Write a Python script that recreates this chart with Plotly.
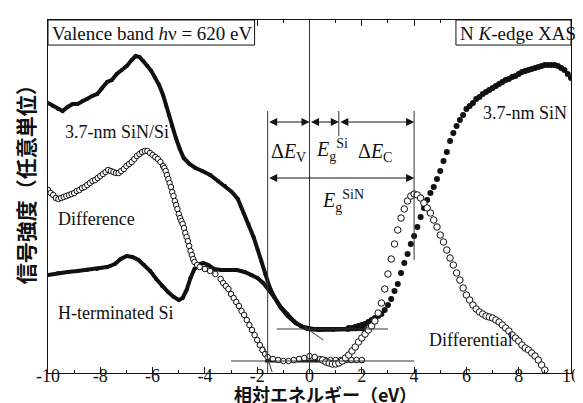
import plotly.graph_objects as go

# ---------------- data (energy in eV, intensity in arbitrary units) ----------------
# Valence-band spectrum, 3.7-nm SiN/Si
vb_sin_x = [-10.00, -9.81, -9.62, -9.44, -9.25, -9.06, -8.87, -8.68, -8.50, -8.31, -8.12, -7.93,
            -7.74, -7.56, -7.37, -7.18, -6.99, -6.80, -6.65, -6.50, -6.35, -6.20, -6.05, -5.90,
            -5.75, -5.60, -5.49, -5.38, -5.26, -5.11, -4.96, -4.81, -4.59, -4.36, -4.10, -3.80,
            -3.50, -3.23, -2.97, -2.74, -2.52, -2.33, -2.14, -1.99, -1.84, -1.69, -1.54, -1.35,
            -1.09, -0.83, -0.53, -0.23, 0.15, 0.53, 0.90, 1.28, 1.65, 2.11]
vb_sin_y = [270, 267, 264, 262, 266, 269, 269, 272, 274, 277, 279, 285,
            291, 293, 299, 303, 307, 313, 317, 316, 312, 307, 302, 295,
            288, 278, 268, 258, 247, 235, 224, 215, 209, 205, 202, 198,
            192, 187, 181, 174, 160, 149, 136, 124, 112, 99, 87, 76,
            65, 57, 50, 46, 44, 44, 44, 44, 44, 44]

# Valence-band spectrum, H-terminated Si
vb_h_x = [-10.00, -9.62, -9.25, -8.87, -8.50, -8.12, -7.74, -7.44, -7.22, -6.99, -6.77, -6.54,
          -6.32, -6.09, -5.86, -5.64, -5.41, -5.19, -5.00, -4.85, -4.70, -4.55, -4.40, -4.21,
          -4.06, -3.87, -3.65, -3.38, -3.08, -2.78, -2.48, -2.22, -1.99, -1.77, -1.54, -1.35,
          -1.13, -0.86, -0.60, -0.34, -0.08, 0.34, 0.90, 1.47, 2.03]
vb_h_y = [98, 100, 101, 102, 103, 104, 106, 109, 114, 117, 116, 113,
          108, 102, 94, 87, 81, 76, 73, 75, 83, 95, 104, 109,
          110, 108, 104, 103, 103, 103, 101, 98, 95, 90, 83, 76,
          67, 59, 52, 47, 44, 43, 43, 43, 44]

# Difference spectrum (SiN/Si minus H-Si)
diff_x = [-10.0, -9.9, -9.8, -9.7, -9.6, -9.5, -9.4, -9.3, -9.2, -9.1, -9.0, -8.9, -8.8, -8.7,
          -8.6, -8.5, -8.4, -8.3, -8.2, -8.1, -8.0, -7.9, -7.8, -7.7, -7.6, -7.5, -7.4, -7.3,
          -7.2, -7.1, -7.0, -6.9, -6.8, -6.7, -6.6, -6.5, -6.4, -6.3, -6.2, -6.1, -6.0, -5.9,
          -5.8,
          -5.7, -5.6, -5.55, -5.5, -5.45, -5.4, -5.35, -5.3, -5.25, -5.2,
          -5.15, -5.1, -5.05, -5.0, -4.95, -4.9, -4.85, -4.8, -4.75, -4.7,
          -4.65, -4.6, -4.55, -4.5, -4.45, -4.4, -4.3, -4.2, -4.0, -3.8,
          -3.6, -3.4, -3.3,
          -3.2, -3.1, -3.0, -2.9, -2.8, -2.7, -2.6, -2.5, -2.4, -2.3, -2.2, -2.1, -2.0, -1.9,
          -1.8, -1.7, -1.6,
          -1.4, -1.2, -1.0, -0.8, -0.6, -0.4, -0.2, 0.0, 0.2, 0.4, 0.6, 0.8, 1.0, 1.2, 1.4,
          1.6, 1.8, 2.0]
diff_y = [183, 180, 178, 175, 174, 175, 176, 177, 178, 179, 180, 182, 183, 185,
          186, 188, 190, 192, 193, 195, 197, 199, 201, 203, 202, 201, 200, 200,
          202, 204, 207, 209, 211, 214, 217, 219, 221, 222, 222, 220, 218, 216,
          214,
          211, 207, 205, 202, 198, 194, 190, 186, 181, 177,
          172, 168, 164, 159, 155, 152, 149, 145, 140, 136,
          132, 127, 122, 118, 114, 111, 108, 106, 104, 102,
          99, 94, 90,
          87, 84, 79, 75, 71, 67, 62, 58, 53, 48, 43, 38, 33, 28,
          23, 19, 16,
          14, 13, 12, 12, 13, 14, 15, 17, 16, 14, 13, 13, 13, 13, 13,
          13, 13, 13]

# N K-edge XAS, 3.7-nm SiN
xas_x = [1.5, 1.625, 1.75, 1.875, 2.0, 2.125, 2.25, 2.375, 2.5, 2.625, 2.75, 2.875,
         3.0, 3.125, 3.25, 3.375, 3.5, 3.625, 3.75, 3.875, 4.0, 4.125, 4.25, 4.375,
         4.5, 4.625, 4.75, 4.875, 5.0, 5.125, 5.25, 5.375, 5.5, 5.625, 5.75, 5.875,
         6.0, 6.125, 6.25, 6.375, 6.5, 6.625, 6.75, 6.875, 7.0, 7.125, 7.25, 7.375,
         7.5, 7.625, 7.75, 7.875, 8.0, 8.125, 8.25, 8.375, 8.5, 8.625, 8.75, 8.875,
         9.0, 9.125, 9.25, 9.375, 9.5, 9.625, 9.75, 9.875, 10.0]
xas_y = [45, 45, 46, 47, 48, 49, 51, 53, 55, 57, 59, 63,
         68, 74, 82, 89, 100, 110, 119, 129, 137, 146, 156, 165,
         173, 180, 186, 194, 202, 212, 221, 232, 240, 247, 253, 258,
         264, 267, 270, 274, 276, 279, 281, 283, 285, 287, 289, 291,
         293, 294, 296, 297, 299, 301, 302, 303, 304, 305, 306, 307,
         308, 308, 308, 308, 307, 305, 303, 299, 295]

# Differential of the XAS spectrum
xdiff_x = [0.5, 0.625, 0.75, 0.875, 1.0, 1.125, 1.25, 1.375, 1.5, 1.625,
           1.75, 1.875, 2.0, 2.125, 2.25, 2.375, 2.5, 2.625, 2.75, 2.875,
           3.0, 3.125, 3.25, 3.375, 3.5, 3.625, 3.75, 3.875, 4.0, 4.125,
           4.25, 4.375, 4.5, 4.625, 4.75, 4.875, 5.0, 5.125, 5.25, 5.375,
           5.5, 5.625, 5.75, 5.875, 6.0, 6.125, 6.25, 6.375, 6.5, 6.625,
           6.75, 6.875, 7.0, 7.125, 7.25, 7.375, 7.5, 7.625, 7.75, 7.875,
           8.0, 8.125, 8.25, 8.375, 8.5, 8.625, 8.75, 8.875, 9.0]
xdiff_y = [13, 11, 10, 9, 9, 10, 12, 15, 18, 22,
           26, 31, 35, 39, 43, 47, 52, 60, 70, 84,
           99, 114, 129, 143, 155, 164, 172, 177, 179, 178,
           175, 170, 165, 160, 153, 146, 138, 131, 123, 115,
           108, 100, 93, 85, 78, 73, 68, 64, 61, 59,
           57, 56, 55, 53, 51, 48, 45, 42, 38, 35,
           32, 28, 25, 23, 20, 17, 13, 8, 3]

tick_vals = [-10, -8, -6, -4, -2, 0, 2, 4, 6, 8, 10]
tick_labels = ["-10", "-8", "-6", "-4", "-2", "0", "2", "4", "6", "8", "10"]

# band-edge energies (eV) and baselines used for the annotation construction
e_vbm = -1.6
e_cbm_si = 1.12
e_cbm_sin = 4.0
vb_base_level = 44
bg_level = 12

# ---------------- figure ----------------
SERIF = "Liberation Serif"
CJK = "Noto Sans CJK JP"
INK = "#111111"
LINE = "#333333"

fig = go.Figure()

fig.add_trace(go.Scatter(x=vb_h_x, y=vb_h_y, mode="lines+markers",
                         line=dict(color=INK, width=4), marker=dict(size=4, color=INK)))
fig.add_trace(go.Scatter(x=vb_sin_x, y=vb_sin_y, mode="lines+markers",
                         line=dict(color=INK, width=4), marker=dict(size=4, color=INK)))
fig.add_trace(go.Scatter(x=diff_x, y=diff_y, mode="markers",
                         marker=dict(size=5.5, symbol="circle", color="white",
                                     line=dict(color=INK, width=1))))
fig.add_trace(go.Scatter(x=xas_x, y=xas_y, mode="markers",
                         marker=dict(size=6, color=INK)))
fig.add_trace(go.Scatter(x=xdiff_x, y=xdiff_y, mode="markers",
                         marker=dict(size=6.5, symbol="circle", color="white",
                                     line=dict(color=INK, width=1))))

y_arrow1, y_arrow2, y_top = 251, 195, 262

shapes = [
    # thick background segment under the difference baseline
    dict(type="line", xref="x", yref="y", x0=-1.7, x1=2.1, y0=bg_level, y1=bg_level,
         line=dict(color=INK, width=3), layer="below"),
    # vertical guide lines
    dict(type="line", xref="x", yref="paper", x0=0, x1=0, y0=0, y1=1, line=dict(color=LINE, width=1)),
    dict(type="line", xref="x", yref="y", x0=e_vbm, x1=e_vbm, y0=0, y1=y_top, line=dict(color=LINE, width=1)),
    dict(type="line", xref="x", yref="y", x0=e_cbm_si, x1=e_cbm_si, y0=237, y1=y_top, line=dict(color=LINE, width=1)),
    dict(type="line", xref="x", yref="y", x0=e_cbm_sin, x1=e_cbm_sin, y0=113, y1=y_top, line=dict(color=LINE, width=1)),
    # baselines
    dict(type="line", xref="x", yref="y", x0=-1.25, x1=3.0, y0=vb_base_level, y1=vb_base_level,
         line=dict(color=LINE, width=1)),
    dict(type="line", xref="x", yref="y", x0=-3.0, x1=4.0, y0=bg_level, y1=bg_level,
         line=dict(color=LINE, width=1)),
    # leading-edge extrapolations
    dict(type="line", xref="x", yref="y", x0=-0.23, x1=0.53, y0=47, y1=33, line=dict(color=LINE, width=1)),
    dict(type="line", xref="x", yref="y", x0=-1.75, x1=-1.43, y0=27, y1=1, line=dict(color=LINE, width=1)),
    # header boxes
    dict(type="rect", xref="paper", yref="paper", x0=0, x1=0.395, y0=0.929, y1=1,
         fillcolor="white", line=dict(color=INK, width=1)),
    dict(type="rect", xref="paper", yref="paper", x0=0.780, x1=1, y0=0.929, y1=1,
         fillcolor="white", line=dict(color=INK, width=1)),
]


def darrow(x0, x1, y):
    return dict(x=x1, y=y, ax=x0, ay=y, xref="x", yref="y", axref="x", ayref="y",
                text="", showarrow=True, arrowhead=2, arrowside="end+start",
                arrowsize=1.6, arrowwidth=1, arrowcolor=INK)


def label(text, x, y, size=18, xref="x", yref="y", xanchor="center", **kw):
    return dict(text=text, x=x, y=y, xref=xref, yref=yref, showarrow=False,
                xanchor=xanchor, yanchor="middle",
                font=dict(family=SERIF, size=size, color=INK), **kw)


annotations = [
    darrow(e_vbm, 0, y_arrow1),
    darrow(0, e_cbm_si, y_arrow1),
    darrow(e_cbm_si, e_cbm_sin, y_arrow1),
    darrow(e_vbm, e_cbm_sin, y_arrow2),
    label("3.7-nm SiN/Si", -7.37, 241),
    label("Difference", -8.16, 154),
    label("H-terminated Si", -7.41, 60),
    label("3.7-nm SiN", 8.23, 260),
    label("Differential", 6.17, 33),
    label("Δ<i>E</i><sub>V</sub>", -0.79, 221, size=20),
    label("<i>E</i><sub>g</sub><sup>Si</sup>", 0.86, 223, size=20),
    label("Δ<i>E</i><sub>C</sub>", 2.52, 221, size=20),
    label("<i>E</i><sub>g</sub><sup>SiN</sup>", 1.28, 172, size=20),
    label("Valence band <i>h</i>ν = 620 eV", 0.004, 0.963, size=19,
          xref="paper", yref="paper", xanchor="left"),
    label("N <i>K</i>-edge XAS", 0.784, 0.963, size=19,
          xref="paper", yref="paper", xanchor="left"),
    dict(text="<b>相対エネルギー（eV）</b>", x=0.53, y=0.0, xref="paper", yref="paper",
         yshift=-21, showarrow=False, xanchor="center", yanchor="middle",
         font=dict(family=CJK, size=18, color=INK)),
    dict(text="<b>信号強度（任意単位）</b>", x=-0.045, y=0.55, xref="paper", yref="paper",
         showarrow=False, xanchor="center", yanchor="middle", textangle=-90,
         font=dict(family=CJK, size=21, color=INK)),
]

fig.update_layout(
    width=583, height=403,
    margin=dict(l=40, r=11, t=12, b=38),
    paper_bgcolor="white", plot_bgcolor="white",
    showlegend=False,
    shapes=shapes,
    annotations=annotations,
    xaxis=dict(range=[-10, 10], tickmode="array", tickvals=tick_vals, ticktext=tick_labels,
               ticks="inside", ticklen=6, tickcolor=INK, showline=True, linecolor=INK,
               linewidth=1, mirror="ticks", showgrid=False, zeroline=False,
               ticklabelstandoff=-14,
               tickfont=dict(family=SERIF, size=18, color=INK),
               minor=dict(tickmode="linear", tick0=0, dtick=1, ticks="inside", ticklen=3,
                          tickcolor=INK)),
    yaxis=dict(range=[0, 353], showticklabels=False, ticks="", showline=True,
               linecolor=INK, linewidth=1, mirror=True, showgrid=False, zeroline=False),
)

fig.write_html("out.html")
